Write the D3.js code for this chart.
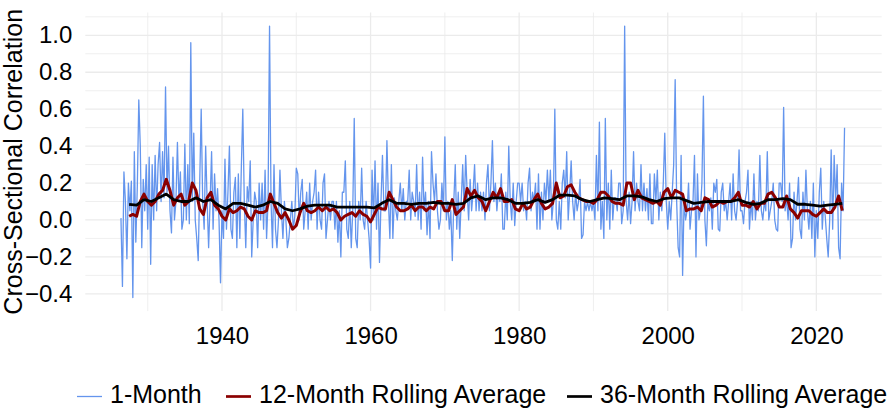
<!DOCTYPE html>
<html>
<head>
<meta charset="utf-8">
<script src="https://cdn.jsdelivr.net/npm/d3@7"></script>
<style>
  html, body { margin: 0; padding: 0; background: #ffffff; }
  svg { display: block; }
  text { font-family: "Liberation Sans", Arial, Helvetica, sans-serif; fill: #000; }
</style>
</head>
<body>
<svg id="chart" width="892" height="408"></svg>
<script>
// ---------------- DATA ----------------
// 1-Month cross-sectional correlation, sampled every 0.2 year starting 1926.4
const oneMonthStart = 1926.4;
const oneMonthStep = 0.2;
const oneMonth = [
  0.01, -0.36, 0.26,                 // 1926
  0.10, -0.21, 0.20, 0.05, 0.21,     // 1927
  -0.42, 0.37, -0.12, 0.18, 0.65,    // 1928
  0.40, -0.15, 0.22, 0.05, 0.30,     // 1929
  -0.05, 0.34, -0.24, 0.30, 0.00,    // 1930
  0.35, 0.05, 0.30, 0.42, 0.10,      // 1931
  0.37, 0.12, 0.72, 0.15, 0.40,      // 1932
  0.05, -0.07, 0.34, 0.00, 0.10,     // 1933
  0.42, 0.10, 0.26, -0.05, 0.00,     // 1934
  0.41, 0.00, 0.30, -0.02, 0.96,     // 1935
  0.10, 0.47, 0.00, -0.10, -0.22,    // 1936
  0.20, 0.60, 0.10, -0.05, 0.40,     // 1937
  0.10, -0.15, 0.10, 0.37, -0.05,    // 1938
  0.25, 0.05, 0.17, 0.00, -0.34,     // 1939
  0.05, -0.10, 0.33, -0.05, 0.15,    // 1940
  0.40, -0.05, -0.10, 0.15, 0.23,    // 1941
  -0.15, 0.25, -0.10, 0.28, 0.60,    // 1942
  0.10, -0.15, 0.18, 0.10, 0.32,     // 1943
  -0.20, 0.00, 0.15, 0.10, -0.15,    // 1944
  0.20, 0.00, 0.20, -0.05, 0.27,     // 1945
  -0.10, 0.10, 1.05, 0.10, -0.15,    // 1946
  0.30, -0.05, -0.15, 0.00, 0.27,    // 1947
  0.05, -0.10, 0.10, 0.00, -0.15,    // 1948
  -0.10, 0.00, 0.10, -0.05, 0.02,    // 1949
  0.28, 0.25, 0.00, 0.15, 0.22,      // 1950
  -0.05, 0.05, 0.15, -0.05, 0.20,    // 1951
  0.00, 0.10, 0.15, 0.27, -0.05,     // 1952
  0.15, 0.00, -0.05, 0.20, 0.25,     // 1953
  -0.10, 0.00, 0.10, 0.00, 0.10,     // 1954
  0.10, -0.05, 0.10, -0.12, 0.05,    // 1955
  -0.20, 0.15, 0.15, 0.32, -0.05,    // 1956
  -0.10, 0.10, -0.15, 0.05, 0.55,    // 1957
  -0.10, -0.15, 0.10, 0.00, 0.28,    // 1958
  0.00, -0.05, 0.10, 0.00, -0.10,    // 1959
  -0.26, 0.27, 0.00, 0.32, -0.05,    // 1960
  0.20, -0.23, 0.10, 0.35, 0.05,     // 1961
  0.05, 0.43, 0.10, -0.10, 0.30,     // 1962
  -0.10, 0.12, 0.05, 0.00, 0.10,     // 1963
  0.20, 0.05, 0.17, 0.00, 0.10,      // 1964
  0.10, 0.27, 0.00, 0.15, 0.10,      // 1965
  0.02, 0.30, 0.00, 0.15, -0.05,     // 1966
  0.34, 0.05, 0.15, -0.08, 0.10,     // 1967
  -0.10, 0.37, 0.20, 0.10, 0.25,     // 1968
  0.05, -0.05, 0.00, 0.20, 0.05,     // 1969
  0.45, 0.00, 0.10, -0.05, 0.05,     // 1970
  -0.22, 0.10, 0.30, -0.05, 0.15,    // 1971
  -0.10, 0.10, 0.30, 0.05, 0.35,     // 1972
  0.15, 0.00, 0.22, 0.05, 0.15,      // 1973
  0.30, 0.05, 0.20, 0.05, 0.15,      // 1974
  0.05, 0.15, 0.00, 0.20, 0.30,      // 1975
  0.05, 0.20, 0.43, 0.10, 0.20,      // 1976
  0.05, 0.15, 0.10, 0.25, -0.05,     // 1977
  -0.05, 0.15, 0.00, 0.40, 0.10,     // 1978
  0.00, 0.20, -0.03, 0.10, 0.20,     // 1979
  0.20, 0.10, 0.20, 0.05, 0.10,      // 1980
  0.00, 0.20, 0.28, 0.05, 0.15,      // 1981
  0.10, 0.20, -0.05, 0.25, -0.05,    // 1982
  0.15, 0.00, 0.20, 0.10, 0.27,      // 1983
  0.10, 0.27, 0.00, 0.10, 0.60,      // 1984
  0.00, -0.05, 0.10, -0.05, 0.20,    // 1985
  0.27, 0.12, 0.37, 0.00, 0.15,      // 1986
  0.32, 0.10, 0.00, 0.15, 0.05,      // 1987
  0.10, 0.22, -0.10, -0.08, 0.10,    // 1988
  0.05, 0.10, 0.05, 0.10, 0.05,      // 1989
  0.10, 0.00, 0.35, 0.05, 0.53,      // 1990
  -0.05, 0.10, -0.10, 0.55, 0.00,    // 1991
  0.20, -0.05, 0.27, 0.00, 0.12,     // 1992
  0.12, 0.05, 0.20, 0.20, -0.02,     // 1993
  0.05, 1.05, 0.10, 0.00, 0.15,      // 1994
  -0.02, 0.10, 0.37, 0.05, 0.20,     // 1995
  0.10, 0.05, 0.30, 0.05, 0.20,      // 1996
  0.05, 0.17, 0.00, 0.25, -0.02,     // 1997
  -0.02, 0.25, 0.10, 0.27, 0.00,     // 1998
  0.15, 0.05, 0.20, 0.47, 0.10,      // 1999
  -0.05, 0.10, 0.00, 0.15, 0.30,     // 2000
  0.76, 0.10, -0.15, -0.20, 0.35,    // 2001
  -0.30, 0.10, 0.00, 0.05, 0.20,     // 2002
  -0.05, 0.05, 0.10, 0.35, -0.20,    // 2003
  0.25, 0.00, 0.05, 0.20, 0.67,      // 2004
  0.00, -0.14, 0.10, 0.05, 0.12,     // 2005
  -0.05, 0.20, 0.15, 0.22, -0.05,    // 2006
  -0.06, 0.15, 0.20, 0.05, 0.10,     // 2007
  0.00, 0.10, 0.20, 0.00, 0.25,      // 2008
  0.05, 0.00, 0.10, 0.38, 0.05,      // 2009
  0.05, -0.02, 0.10, 0.15, 0.27,     // 2010
  -0.05, 0.10, 0.00, 0.25, 0.00,     // 2011
  0.10, 0.05, 0.35, 0.05, 0.00,      // 2012
  0.10, 0.05, 0.37, 0.00, 0.05,      // 2013
  0.10, 0.20, 0.00, -0.05, -0.06,    // 2014
  0.20, 0.20, 0.10, 0.61, 0.05,      // 2015
  0.12, 0.00, 0.20, -0.15, -0.10,    // 2016
  0.15, 0.00, 0.10, 0.23, -0.05,     // 2017
  -0.10, 0.15, 0.00, 0.27, 0.05,     // 2018
  -0.05, 0.10, -0.10, 0.20, -0.20,   // 2019
  0.05, -0.10, 0.15, 0.28, -0.05,    // 2020
  0.10, 0.02, -0.10, -0.20, 0.00,    // 2021
  0.38, -0.05, 0.35, 0.10, 0.30,     // 2022
  -0.15, -0.21, 0.20, 0.05, 0.50     // 2023
];

// 12-Month rolling average, every half year starting 1927.5
const rolling12Start = 1927.5;
const rolling12Step = 0.5;
const rolling12 = [
  0.02,
  0.03, 0.02, 0.10, 0.14, 0.10, 0.08, 0.10, 0.14, 0.16, 0.22,   // 1928-1932
  0.16, 0.08, 0.12, 0.14, 0.08, 0.10, 0.20, 0.16, 0.06, 0.03,   // 1933-1937
  0.12, 0.15, 0.08, 0.06,                                       // 1938-1939
  0.02, 0.00, 0.06, 0.04, 0.05, 0.07, 0.06, 0.02, 0.00, 0.05,   // 1940-1944
  0.04, 0.04, 0.05, 0.14, 0.09, 0.04, 0.01, 0.04, 0.00, -0.05,  // 1945-1949
  -0.03, 0.04, 0.09, 0.05, 0.04, 0.05, 0.07, 0.05, 0.07, 0.05,  // 1950-1954
  0.06, 0.04, 0.00, 0.02, 0.03, 0.04, 0.02, 0.05, 0.03, 0.02,   // 1955-1959
  -0.01, 0.03, 0.07, 0.06, 0.06, 0.15, 0.11, 0.07, 0.05, 0.05,  // 1960-1964
  0.06, 0.08, 0.05, 0.07, 0.07, 0.05, 0.07, 0.06, 0.10, 0.10,   // 1965-1969
  0.05, 0.05, 0.11, 0.03, 0.05, 0.07, 0.17, 0.13, 0.16, 0.12,   // 1970-1974
  0.10, 0.05, 0.10, 0.15, 0.12, 0.17, 0.10, 0.10, 0.11, 0.06,   // 1975-1979
  0.05, 0.09, 0.06, 0.07, 0.11, 0.14, 0.09, 0.06, 0.07, 0.09,   // 1980-1984
  0.20, 0.12, 0.13, 0.18, 0.19, 0.15, 0.12, 0.11, 0.10, 0.10,   // 1985-1989
  0.09, 0.11, 0.15, 0.15, 0.13, 0.10, 0.09, 0.09, 0.08, 0.20,   // 1990-1994
  0.20, 0.11, 0.16, 0.12, 0.11, 0.10, 0.09, 0.10, 0.08, 0.15,   // 1995-1999
  0.17, 0.12, 0.16, 0.15, 0.14, 0.05, 0.06, 0.06, 0.07, 0.05,   // 2000-2004
  0.12, 0.11, 0.07, 0.08, 0.10, 0.09, 0.10, 0.10, 0.12, 0.15,   // 2005-2009
  0.08, 0.08, 0.07, 0.10, 0.06, 0.09, 0.09, 0.14, 0.15, 0.12,   // 2010-2014
  0.07, 0.07, 0.13, 0.06, 0.04, 0.01, 0.05, 0.05, 0.05, 0.03,   // 2015-2019
  0.02, 0.04, 0.06, 0.04, 0.04, 0.07, 0.13, 0.05                // 2020-2023
];

// 36-Month rolling average, every year starting 1927.5
const rolling36Start = 1927.5;
const rolling36Step = 1;
const rolling36 = [
  0.085, 0.08, 0.11, 0.10, 0.12, 0.14, 0.11, 0.10, 0.10, 0.12, 0.10, 0.11, 0.08,  // 1927.5-1939.5
  0.06, 0.09, 0.09, 0.08, 0.07, 0.08, 0.10, 0.09, 0.06, 0.05,                      // 1940.5-1949.5
  0.06, 0.075, 0.08, 0.08, 0.08, 0.07, 0.07, 0.07, 0.07, 0.07,                     // 1950.5-1959.5
  0.065, 0.09, 0.11, 0.09, 0.09, 0.085, 0.09, 0.09, 0.095, 0.09,                   // 1960.5-1969.5
  0.09, 0.085, 0.09, 0.12, 0.13, 0.11, 0.12, 0.12, 0.11, 0.09,                     // 1970.5-1979.5
  0.09, 0.095, 0.11, 0.095, 0.11, 0.135, 0.135, 0.13, 0.11, 0.10,                  // 1980.5-1989.5
  0.11, 0.12, 0.115, 0.11, 0.13, 0.13, 0.125, 0.11, 0.10, 0.115,                   // 1990.5-1999.5
  0.12, 0.12, 0.105, 0.09, 0.095, 0.10, 0.10, 0.10, 0.10, 0.11,                    // 2000.5-2009.5
  0.095, 0.085, 0.09, 0.11, 0.11, 0.115, 0.11, 0.085, 0.085, 0.08,                 // 2010.5-2019.5
  0.075, 0.08, 0.085, 0.09                                                         // 2020.5-2023.5
];

const xTickValues = [1940, 1960, 1980, 2000, 2020];
const xMinorValues = [1930, 1950, 1970, 1990, 2010];
const yTickValues = [-0.4, -0.2, 0.0, 0.2, 0.4, 0.6, 0.8, 1.0];
const yMinorValues = [-0.3, -0.1, 0.1, 0.3, 0.5, 0.7, 0.9, 1.1];
const seriesNames = ["1-Month", "12-Month Rolling Average", "36-Month Rolling Average"];
const seriesColors = ["#6495ED", "#8B0000", "#000000"];

// ---------------- CHART ----------------
const svg = d3.select("#chart");
const panel = { left: 85.3, right: 881.7, top: 12.5, bottom: 311.1 };

const x = d3.scaleLinear().domain([1921.6, 2028.8]).range([panel.left, panel.right]);
const y = d3.scaleLinear().domain([-0.4935, 1.1235]).range([panel.bottom, panel.top]);

function toPoints(start, step, vals) {
  return vals.map((v, i) => ({ t: start + i * step, v: v }));
}
const series = [
  toPoints(oneMonthStart, oneMonthStep, oneMonth),
  toPoints(rolling12Start, rolling12Step, rolling12),
  toPoints(rolling36Start, rolling36Step, rolling36)
];
const widths = [1.3, 3.0, 2.8];

// grid
const grid = svg.append("g");
grid.selectAll("line.ymin").data(yMinorValues).join("line")
  .attr("x1", panel.left).attr("x2", panel.right)
  .attr("y1", d => y(d)).attr("y2", d => y(d))
  .attr("stroke", "#ebebeb").attr("stroke-width", 0.8);
grid.selectAll("line.xmin").data(xMinorValues).join("line")
  .attr("y1", panel.top).attr("y2", panel.bottom)
  .attr("x1", d => x(d)).attr("x2", d => x(d))
  .attr("stroke", "#ebebeb").attr("stroke-width", 0.8);
grid.selectAll("line.ymaj").data(yTickValues).join("line")
  .attr("x1", panel.left).attr("x2", panel.right)
  .attr("y1", d => y(d)).attr("y2", d => y(d))
  .attr("stroke", "#ebebeb").attr("stroke-width", 1.3);
grid.selectAll("line.xmaj").data(xTickValues).join("line")
  .attr("y1", panel.top).attr("y2", panel.bottom)
  .attr("x1", d => x(d)).attr("x2", d => x(d))
  .attr("stroke", "#ebebeb").attr("stroke-width", 1.3);

// lines
const line = d3.line().x(d => x(d.t)).y(d => y(d.v));
series.forEach((s, i) => {
  svg.append("path").datum(s)
    .attr("d", line)
    .attr("fill", "none")
    .attr("stroke", seriesColors[i])
    .attr("stroke-width", widths[i])
    .attr("stroke-linejoin", "round")
    .attr("stroke-linecap", "butt");
});

// axes (text only, no axis lines)
const fmt = d3.format(".1f");
const yAxis = d3.axisLeft(y).tickValues(yTickValues).tickFormat(fmt).tickSize(0).tickPadding(13);
const gy = svg.append("g").attr("transform", `translate(${panel.left},0)`).call(yAxis);
gy.select(".domain").remove();
gy.selectAll("text").attr("font-size", 24).attr("font-family", "Liberation Sans, Arial, sans-serif").attr("fill", "#000");

const xAxis = d3.axisBottom(x).tickValues(xTickValues).tickFormat(d3.format("d")).tickSize(0).tickPadding(0);
const gx = svg.append("g").attr("transform", `translate(0,${panel.bottom})`).call(xAxis);
gx.select(".domain").remove();
gx.selectAll("text").attr("font-size", 24).attr("font-family", "Liberation Sans, Arial, sans-serif")
  .attr("fill", "#000").attr("dy", null).attr("y", 33);

// y title
svg.append("text")
  .attr("transform", `translate(22,${(panel.top + panel.bottom) / 2}) rotate(-90)`)
  .attr("text-anchor", "middle")
  .attr("font-size", 25)
  .text("Cross-Sectional Correlation");

// legend
const legendStarts = [77, 226, 567];
const legend = svg.append("g");
seriesNames.forEach((name, i) => {
  const g = legend.append("g").attr("transform", `translate(${legendStarts[i]},0)`);
  g.append("line").attr("x1", 0).attr("x2", 25).attr("y1", 396.5).attr("y2", 396.5)
    .attr("stroke", seriesColors[i]).attr("stroke-width", i === 0 ? 1.3 : 2.7);
  g.append("text").attr("x", 33).attr("y", 403).attr("font-size", 25).text(name);
});
</script>
</body>
</html>
